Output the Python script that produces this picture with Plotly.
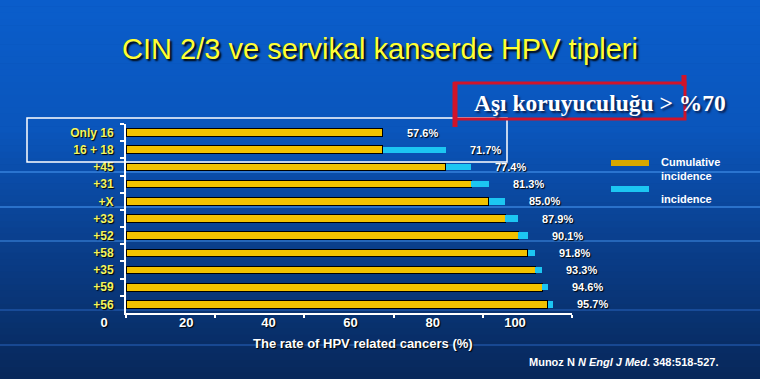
import plotly.graph_objects as go

# ---------------- data ----------------
categories = ["Only 16", "16 + 18", "+45", "+31", "+X", "+33", "+52", "+58", "+35", "+59", "+56"]
totals = [57.6, 71.7, 77.4, 81.3, 85.0, 87.9, 90.1, 91.8, 93.3, 94.6, 95.7]
value_labels = ["57.6%", "71.7%", "77.4%", "81.3%", "85.0%", "87.9%", "90.1%", "91.8%", "93.3%", "94.6%", "95.7%"]
x_tick_values = [0, 20, 40, 60, 80, 100]
x_tick_labels = ["0", "20", "40", "60", "80", "100"]

# cumulative incidence = total of the previous row, incidence = added part
cumulative = [totals[0]] + totals[:-1]
incidence = [None] + [round(t - c, 1) for t, c in zip(totals[1:], cumulative[1:])]

W, H = 760, 379
ML, MR, MT, MB = 100, 188, 124, 66
PW = W - ML - MR
PH = H - MT - MB


def px(x):
    return (x - ML) / PW


def py(y):
    return (H - MB - y) / PH


SANS = "Liberation Sans, Arial, sans-serif"
SHADOW = "1px 1px 1px #000"

fig = go.Figure()
fig.add_trace(go.Bar(
    y=categories, x=cumulative, orientation="h", name="Cumulative incidence",
    marker=dict(color="#f2c200", line=dict(color="#000000", width=1)),
    width=0.44, showlegend=False, hoverinfo="x+y"))
fig.add_trace(go.Bar(
    y=categories, x=incidence, orientation="h", name="incidence",
    marker=dict(color="#1cc6f2", line=dict(width=0)),
    width=0.38, showlegend=False, hoverinfo="x+y"))
# helper trace so that the label axis (x2) is drawn
fig.add_trace(go.Scatter(x=[0], y=[categories[0]], xaxis="x2", yaxis="y", mode="markers",
                         marker=dict(opacity=0), showlegend=False, hoverinfo="skip"))

shapes = []
# background gradient
stops = [(0, (10, 94, 204)), (130, (10, 86, 188)), (250, (10, 62, 138)), (379, (8, 40, 90))]
nb = 60
for i in range(nb):
    y0 = H * i / nb
    y1 = H * (i + 1) / nb + 0.5
    ym = (y0 + y1) / 2
    for (a, ca), (b, cb) in zip(stops[:-1], stops[1:]):
        if a <= ym <= b:
            t = (ym - a) / (b - a)
            c = tuple(int(ca[k] + (cb[k] - ca[k]) * t) for k in range(3))
            break
    shapes.append(dict(type="rect", xref="paper", yref="paper", x0=px(0), x1=px(W),
                       y0=py(y1), y1=py(y0), fillcolor="rgb(%d,%d,%d)" % c,
                       line=dict(width=0), layer="below"))
# faint decorative lines
for yy, col in [(172, "rgba(70,150,240,0.55)"), (207, "rgba(70,150,240,0.55)"),
                (241, "rgba(70,150,240,0.45)"), (310, "rgba(40,100,190,0.5)"),
                (345, "rgba(40,100,190,0.5)")]:
    shapes.append(dict(type="line", xref="paper", yref="paper", x0=px(0), x1=px(W),
                       y0=py(yy), y1=py(yy), line=dict(color=col, width=2), layer="below"))

# white box around first two rows
shapes.append(dict(type="rect", xref="paper", yref="paper", x0=px(27), x1=px(507),
                   y0=py(162), y1=py(118), line=dict(color="white", width=1.5)))
# red box
RED = "#d0142a"
shapes.append(dict(type="rect", xref="paper", yref="paper", x0=px(455), x1=px(685),
                   y0=py(119), y1=py(83), line=dict(color=RED, width=3)))
shapes.append(dict(type="line", xref="paper", yref="paper", x0=px(455), x1=px(455),
                   y0=py(127), y1=py(82), line=dict(color=RED, width=5)))
shapes.append(dict(type="line", xref="paper", yref="paper", x0=px(684), x1=px(684),
                   y0=py(86), y1=py(75), line=dict(color=RED, width=5)))
# legend swatches
shapes.append(dict(type="rect", xref="paper", yref="paper", x0=px(611), x1=px(649),
                   y0=py(166), y1=py(160), fillcolor="#d8a800", line=dict(width=0)))
shapes.append(dict(type="rect", xref="paper", yref="paper", x0=px(611), x1=px(649),
                   y0=py(192), y1=py(186), fillcolor="#1cc6f2", line=dict(width=0)))

annotations = []
for i, (tot, lab) in enumerate(zip(totals, value_labels)):
    annotations.append(dict(x=tot, y=i, xref="x", yref="y", text="<b>%s</b>" % lab,
                            showarrow=False, xanchor="left", xshift=22,
                            font=dict(family=SANS, size=11, color="white", shadow=SHADOW)))
annotations.append(dict(x=px(659), y=py(169), xref="paper", yref="paper",
                        text="<b>Cumulative<br>incidence</b>", showarrow=False,
                        xanchor="left", yanchor="middle", align="left",
                        font=dict(family=SANS, size=11, color="white")))
annotations.append(dict(x=px(659), y=py(199), xref="paper", yref="paper",
                        text="<b>incidence</b>", showarrow=False,
                        xanchor="left", yanchor="middle", align="left",
                        font=dict(family=SANS, size=11, color="white")))
annotations.append(dict(x=px(363), y=py(343), xref="paper", yref="paper",
                        text="<b>The rate of HPV related cancers (%)</b>", showarrow=False,
                        xanchor="center", yanchor="middle",
                        font=dict(family=SANS, size=13, color="white", shadow=SHADOW)))
annotations.append(dict(x=px(624), y=py(362), xref="paper", yref="paper",
                        text="<b>Munoz N <i>N Engl J Med</i>. 348:518-527.</b>", showarrow=False,
                        xanchor="center", yanchor="middle",
                        font=dict(family=SANS, size=11, color="white")))
annotations.append(dict(x=px(600), y=py(103), xref="paper", yref="paper",
                        text="<b>Aşı koruyuculuğu > %70</b>", showarrow=False,
                        xanchor="center", yanchor="middle",
                        font=dict(family="Liberation Serif, Times New Roman, serif", size=23.5,
                                  color="white", shadow="2px 2px 2px #0a1f50")))

fig.update_layout(
    width=W, height=H,
    margin=dict(l=ML, r=MR, t=MT, b=MB, pad=0),
    paper_bgcolor="rgb(10,70,150)",
    plot_bgcolor="rgba(0,0,0,0)",
    barmode="stack",
    showlegend=False,
    title=dict(text="CIN 2/3 ve servikal kanserde HPV tipleri", x=0.5, xref="container",
               xanchor="center", y=1 - 49 / H, yref="container", yanchor="middle",
               font=dict(family=SANS, size=29, color="#ffff33", shadow="2px 2px 2px #000")),
    xaxis=dict(domain=[px(126), 1], range=[0, 100], tickvals=x_tick_values,
               showticklabels=False, ticks="outside", ticklen=3, tickwidth=1.5,
               tickcolor="white", showline=True, linecolor="white", linewidth=2,
               showgrid=False, zeroline=False, fixedrange=True),
    xaxis2=dict(domain=[px(104), 1], range=[0, (572 - 104) / 4.11], anchor="y",
                tickvals=x_tick_values, ticktext=x_tick_labels, ticks="", showline=False,
                showgrid=False, zeroline=False, side="bottom",
                tickfont=dict(family=SANS, size=13, color="white", weight="bold", shadow=SHADOW)),
    yaxis=dict(type="category", categoryorder="array", categoryarray=categories,
               range=[len(categories) - 0.5, -0.5], autorange=False,
               ticks="outside", tickson="boundaries", ticklen=4,
               tickwidth=1.5, tickcolor="white", showline=True, linecolor="white",
               linewidth=2, showgrid=False, zeroline=False, anchor="x",
               ticklabelstandoff=8,
               tickfont=dict(family=SANS, size=12, color="#f4f45c", weight="bold", shadow=SHADOW)),
    shapes=shapes,
    annotations=annotations,
)

fig.write_html("out.html", config={"displayModeBar": False},
               post_script="document.body.style.margin='0';document.body.style.overflow='hidden';")
